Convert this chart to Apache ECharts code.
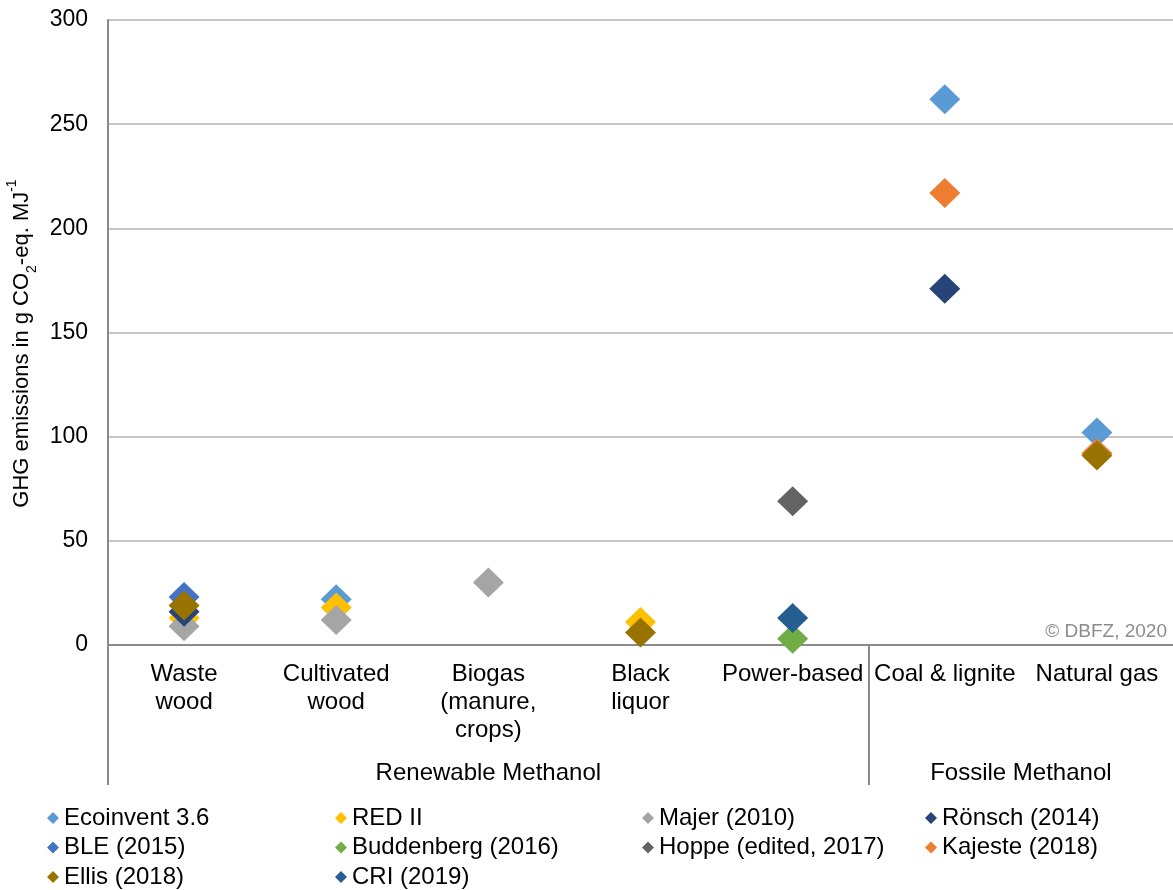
<!DOCTYPE html>
<html>
<head>
<meta charset="utf-8">
<script src="https://cdn.jsdelivr.net/npm/echarts@6/dist/echarts.min.js"></script>
<style>
  html, body { margin: 0; padding: 0; background: #fff; }
  #chart { width: 1173px; height: 890px; }
</style>
</head>
<body>
<div id="chart"></div>
<script>
// categories on the x axis
const categories = ['Waste\nwood', 'Cultivated\nwood', 'Biogas\n(manure,\ncrops)', 'Black\nliquor', 'Power-based', 'Coal & lignite', 'Natural gas'];
// groups below the categories, and how many categories each covers
const groupNames = ['Renewable Methanol', 'Fossile Methanol'];
const groupSizes = [5, 2];
const yTicks = { min: 0, max: 300, interval: 50 };

// GHG emissions, g CO2-eq. per MJ (null = no value)
const ecoinvent  = [null, 22, null, null, null, 262, 102];
const redII      = [13, 18, null, 11, null, null, null];
const majer      = [9, 12, 30, null, null, null, null];
const roensch    = [16, null, null, null, null, 171, null];
const ble        = [23, null, null, null, null, null, null];
const buddenberg = [null, null, null, null, 3, null, null];
const hoppe      = [null, null, null, null, 69, null, null];
const kajeste    = [null, null, null, null, null, 217, 92];
const ellis      = [19, null, null, 6, null, null, 91];
const cri        = [null, null, null, null, 13, null, null];

const seriesNames = ['Ecoinvent 3.6', 'RED II', 'Majer (2010)', 'Rönsch (2014)', 'BLE (2015)',
  'Buddenberg (2016)', 'Hoppe (edited, 2017)', 'Kajeste (2018)', 'Ellis (2018)', 'CRI (2019)'];
const seriesData = [ecoinvent, redII, majer, roensch, ble, buddenberg, hoppe, kajeste, ellis, cri];
const colors = ['#5B9BD5', '#FFC000', '#A5A5A5', '#264478', '#4472C4',
  '#70AD47', '#636363', '#ED7D31', '#997300', '#255E91'];

// legend laid out in four columns
const legendColumns = [
  ['Ecoinvent 3.6', 'BLE (2015)', 'Ellis (2018)'],
  ['RED II', 'Buddenberg (2016)', 'CRI (2019)'],
  ['Majer (2010)', 'Hoppe (edited, 2017)'],
  ['Rönsch (2014)', 'Kajeste (2018)']
];
const legendLeft = [47, 335, 642, 925];

const FONT = 'Liberation Sans, Arial, sans-serif';

// group boundaries / centers in category units
let bounds = [0], centers = [];
groupSizes.forEach(function (n) {
  const start = bounds[bounds.length - 1];
  centers.push(start + n / 2);
  bounds.push(start + n);
});

const chart = echarts.init(document.getElementById('chart'));

const option = {
  animation: false,
  textStyle: { fontFamily: FONT },
  grid: { left: 108, right: 0, top: 20, bottom: 245, containLabel: false, outerBoundsMode: 'none' },
  legend: legendColumns.map(function (col, i) {
    return {
      data: col,
      orient: 'vertical',
      left: legendLeft[i],
      top: 806,
      padding: 0,
      itemWidth: 12,
      itemHeight: 12,
      itemGap: 5.5,
      icon: 'diamond',
      textStyle: { fontFamily: FONT, fontSize: 24, color: '#000', lineHeight: 24 }
    };
  }),
  xAxis: [
    {
      type: 'category',
      position: 'bottom',
      data: categories,
      boundaryGap: true,
      axisLine: { lineStyle: { color: '#8a8a8a', width: 2 } },
      axisTick: { show: false },
      axisLabel: { interval: 0, margin: 15, fontSize: 24, lineHeight: 28, color: '#000', fontFamily: FONT }
    },
    {
      type: 'value',
      position: 'bottom',
      min: 0,
      max: bounds[bounds.length - 1],
      axisLine: { show: false },
      splitLine: { show: false },
      axisTick: {
        show: true,
        customValues: bounds.slice(0, -1),
        length: 140,
        lineStyle: { color: '#8a8a8a', width: 2 }
      },
      axisLabel: {
        customValues: centers,
        margin: 114,
        fontSize: 24,
        lineHeight: 28,
        color: '#000',
        fontFamily: FONT,
        formatter: function (v) {
          const idx = centers.indexOf(v);
          return idx >= 0 ? groupNames[idx] : '';
        }
      }
    }
  ],
  yAxis: {
    type: 'value',
    min: yTicks.min,
    max: yTicks.max,
    interval: yTicks.interval,
    name: '{a|GHG emissions in g CO}{s|2}{a|-eq. MJ}{p|-1}',
    nameLocation: 'middle',
    nameGap: 69,
    nameTextStyle: {
      padding: [0, 22, 0, 0],
      rich: {
        a: { fontSize: 22, color: '#000', fontFamily: FONT, lineHeight: 26 },
        s: { fontSize: 14, color: '#000', fontFamily: FONT, verticalAlign: 'bottom', lineHeight: 26, padding: [0, 0, -4, 0] },
        p: { fontSize: 14, color: '#000', fontFamily: FONT, verticalAlign: 'top', lineHeight: 26, padding: [-4, 0, 0, 0] }
      }
    },
    axisLine: { show: true, lineStyle: { color: '#8a8a8a', width: 2 } },
    axisTick: { show: false },
    axisLabel: { margin: 20, fontSize: 23, color: '#000', fontFamily: FONT },
    splitLine: { lineStyle: { color: '#C6C6C6', width: 2 } }
  },
  graphic: [{
    type: 'text',
    right: 6,
    top: 622,
    style: { text: '© DBFZ, 2020', fill: '#8c8c8c', font: '19px ' + FONT }
  }],
  series: seriesNames.map(function (name, i) {
    return {
      name: name,
      type: 'scatter',
      xAxisIndex: 0,
      symbol: 'diamond',
      symbolSize: [31, 30],
      itemStyle: { color: colors[i], opacity: 1 },
      data: seriesData[i]
    };
  })
};

chart.setOption(option);
</script>
</body>
</html>
